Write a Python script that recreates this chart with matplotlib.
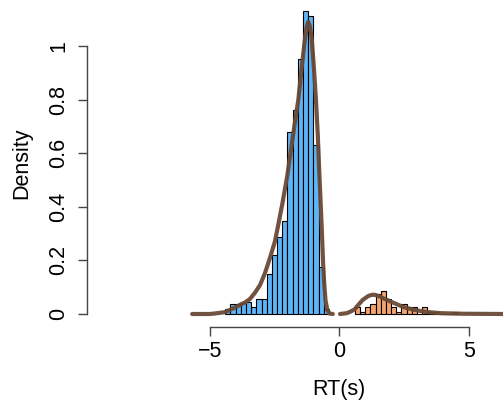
import numpy as np
import matplotlib
matplotlib.use("Agg")
import matplotlib.pyplot as plt

plt.rcParams['font.family'] = ['Liberation Sans', 'DejaVu Sans']

# Histogram of negative response times (density scale)
neg_breaks = [-4.4, -4.2, -4.0, -3.8, -3.6, -3.4, -3.2, -3.0, -2.8, -2.6, -2.4,
              -2.2, -2.0, -1.8, -1.6, -1.4, -1.2, -1.0, -0.8, -0.6, -0.4]
neg_density = [0.018, 0.037, 0.037, 0.042, 0.046, 0.027, 0.057, 0.057, 0.149, 0.219,
               0.286, 0.348, 0.679, 0.761, 0.950, 1.131, 1.112, 0.629, 0.177, 0.018]

# Histogram of positive response times (density scale)
pos_breaks = [0.6, 0.8, 1.0, 1.2, 1.4, 1.6, 1.8, 2.0, 2.2, 2.4, 2.6,
              2.8, 3.0, 3.2, 3.4, 3.6, 3.8, 4.0, 4.2, 4.4, 4.6]
pos_density = [0.027, 0.009, 0.027, 0.037, 0.075, 0.087, 0.056, 0.027, 0.009, 0.037,
               0.025, 0.027, 0.0, 0.027, 0.009, 0.009, 0.0, 0.0, 0.0, 0.009]

# Kernel density estimates
neg_kde_x = [-5.68, -5.0, -4.8, -4.41, -4.03, -3.80, -3.64, -3.45, -3.25, -3.06,
             -2.87, -2.68, -2.48, -2.33, -2.2, -2.0, -1.78, -1.58, -1.45, -1.32,
             -1.26, -1.2, -1.14, -1.07, -0.98, -0.9, -0.83, -0.78, -0.73, -0.68,
             -0.62, -0.57, -0.53, -0.46, -0.38, -0.25]
neg_kde_y = [0.0, 0.0, 0.002, 0.007, 0.024, 0.036, 0.043, 0.056, 0.08, 0.108,
             0.152, 0.208, 0.272, 0.345, 0.41, 0.52, 0.67, 0.80, 0.92, 1.03,
             1.07, 1.09, 1.075, 1.035, 0.92, 0.80, 0.67, 0.55, 0.44, 0.33,
             0.18, 0.10, 0.05, 0.015, 0.002, 0.0]

pos_kde_x = [0.03, 0.29, 0.48, 0.6, 0.7, 0.8, 0.9, 1.0, 1.1, 1.2, 1.3, 1.4,
             1.57, 1.76, 2.02, 2.28, 2.54, 2.92, 3.31, 3.95, 4.79, 6.4]
pos_kde_y = [0.0, 0.003, 0.011, 0.018, 0.03, 0.041, 0.052, 0.059, 0.066, 0.070,
             0.072, 0.071, 0.065, 0.056, 0.045, 0.034, 0.024, 0.015, 0.008,
             0.003, 0.001, 0.0]

x_ticks = [-5, 0, 5]
x_tick_labels = ['\u22125', '0', '5']
y_ticks = [0, 0.2, 0.4, 0.6, 0.8, 1.0]
y_tick_labels = ['0', '0.2', '0.4', '0.6', '0.8', '1']

W, H = 503, 408
fig = plt.figure(figsize=(W / 100, H / 100), dpi=100)
ax = fig.add_axes([87 / W, (H - 327.3) / H, 504.5 / W, 327.3 / H])
ax.set_xlim(-9.74, 9.74)
ax.set_ylim(-0.0496, 1.1716)

blue = '#5DB5F7'
orange = '#F6A36F'
brown = '#6A4935'

for breaks, dens, col in [(neg_breaks, neg_density, blue), (pos_breaks, pos_density, orange)]:
    b = np.asarray(breaks)
    ax.bar(b[:-1], dens, width=np.diff(b), align='edge', color=col,
           edgecolor='black', linewidth=0.8, zorder=2)

for xs, ys in [(neg_kde_x, neg_kde_y), (pos_kde_x, pos_kde_y)]:
    ax.plot(xs, ys, color=brown, linewidth=3.0, solid_capstyle='round',
            solid_joinstyle='round', zorder=3, alpha=0.95)

for s in ['top', 'right']:
    ax.spines[s].set_visible(False)
for s in ['left', 'bottom']:
    ax.spines[s].set_color('#444444')
    ax.spines[s].set_linewidth(1.0)
ax.spines['left'].set_bounds(0, 1)
ax.spines['bottom'].set_bounds(-5, 5)

ax.set_xticks(x_ticks)
ax.set_xticklabels(x_tick_labels)
ax.set_yticks(y_ticks)
ax.set_yticklabels(y_tick_labels, rotation=90, va='center')
ax.tick_params(axis='both', direction='out', length=6.3, width=1.0, color='#444444',
               labelsize=15.5, labelcolor='black')
ax.tick_params(axis='x', pad=3.6)
ax.tick_params(axis='y', pad=6.3)

fig.text(339 / W, 1 - 390 / H, 'RT(s)', ha='center', va='center', fontsize=15.5)
fig.text(21.7 / W, 1 - 163 / H, 'Density', ha='center', va='center', rotation=90,
         fontsize=15.5)

fig.savefig('out.png', dpi=100)
